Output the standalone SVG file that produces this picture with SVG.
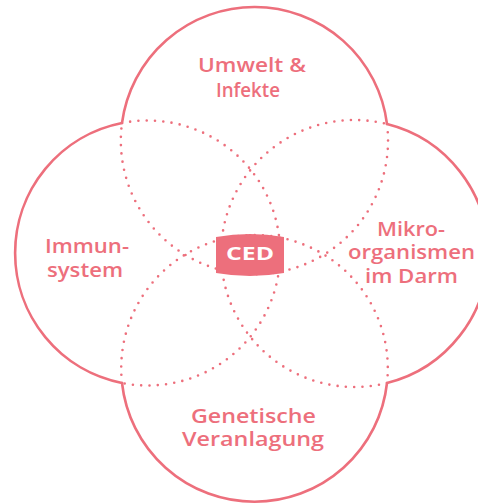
<svg xmlns="http://www.w3.org/2000/svg" width="478" height="504" viewBox="0 0 478 504">
  <style>
    .outline { fill: none; stroke: #ed6f7c; stroke-width: 2.6; stroke-linejoin: miter; }
    .dots { fill: none; stroke: #ed6f7c; stroke-width: 2.6; stroke-linecap: round; stroke-dasharray: 0 8.3; }
    .lbl { font-family: "Open Sans", "DejaVu Sans", sans-serif; font-size: 19px; font-weight: 600; fill: #ed6f7c; }
    .ced { font-family: "Open Sans", "DejaVu Sans", sans-serif; font-size: 17px; font-weight: 700; fill: #ffffff; }
  </style>
  <rect width="478" height="504" fill="#ffffff"/>
  <g id="connectors">
    <path class="dots" d="M 387 124 A 133.6 133.6 0 1 1 122 123"/>
    <path class="dots" d="M 122 123 A 132.5 132.5 0 1 1 122 383"/>
    <path class="dots" d="M 387 383 A 133.5 133.5 0 1 1 387 124"/>
    <path class="dots" d="M 122 383 A 133.3 133.3 0 1 1 387 383"/>
  </g>
  <g id="outline">
    <path class="outline" d="M 122 123 A 133.6 133.6 0 0 1 387 124 A 133.5 133.5 0 0 1 387 383 A 133.3 133.3 0 0 1 122 383 A 132.5 132.5 0 0 1 122 123 Z"/>
  </g>
  <g id="umwelt">
    <text class="lbl" x="198" y="72" textLength="108" lengthAdjust="spacingAndGlyphs">Umwelt &amp;</text>
    <text class="lbl" x="216" y="97" textLength="64" lengthAdjust="spacingAndGlyphs">Infekte</text>
  </g>
  <g id="immunsystem">
    <text class="lbl" x="45" y="253" textLength="84" lengthAdjust="spacingAndGlyphs">Immun-</text>
    <text class="lbl" x="47" y="277" textLength="76" lengthAdjust="spacingAndGlyphs">system</text>
  </g>
  <g id="mikroorganismen">
    <text class="lbl" x="377" y="236" textLength="68" lengthAdjust="spacingAndGlyphs">Mikro-</text>
    <text class="lbl" x="348" y="259" textLength="127" lengthAdjust="spacingAndGlyphs">organismen</text>
    <text class="lbl" x="365" y="283" textLength="93" lengthAdjust="spacingAndGlyphs">im Darm</text>
  </g>
  <g id="genetik">
    <text class="lbl" x="191" y="423" textLength="125" lengthAdjust="spacingAndGlyphs">Genetische</text>
    <text class="lbl" x="182" y="446" textLength="142" lengthAdjust="spacingAndGlyphs">Veranlagung</text>
  </g>
  <g id="ced">
    <path d="M 216 237 Q 250 231 284 237 L 284 273 Q 250 279 216 273 Z" fill="#ed6f7c"/>
    <text class="ced" x="226" y="260" textLength="48" lengthAdjust="spacingAndGlyphs">CED</text>
  </g>
</svg>
